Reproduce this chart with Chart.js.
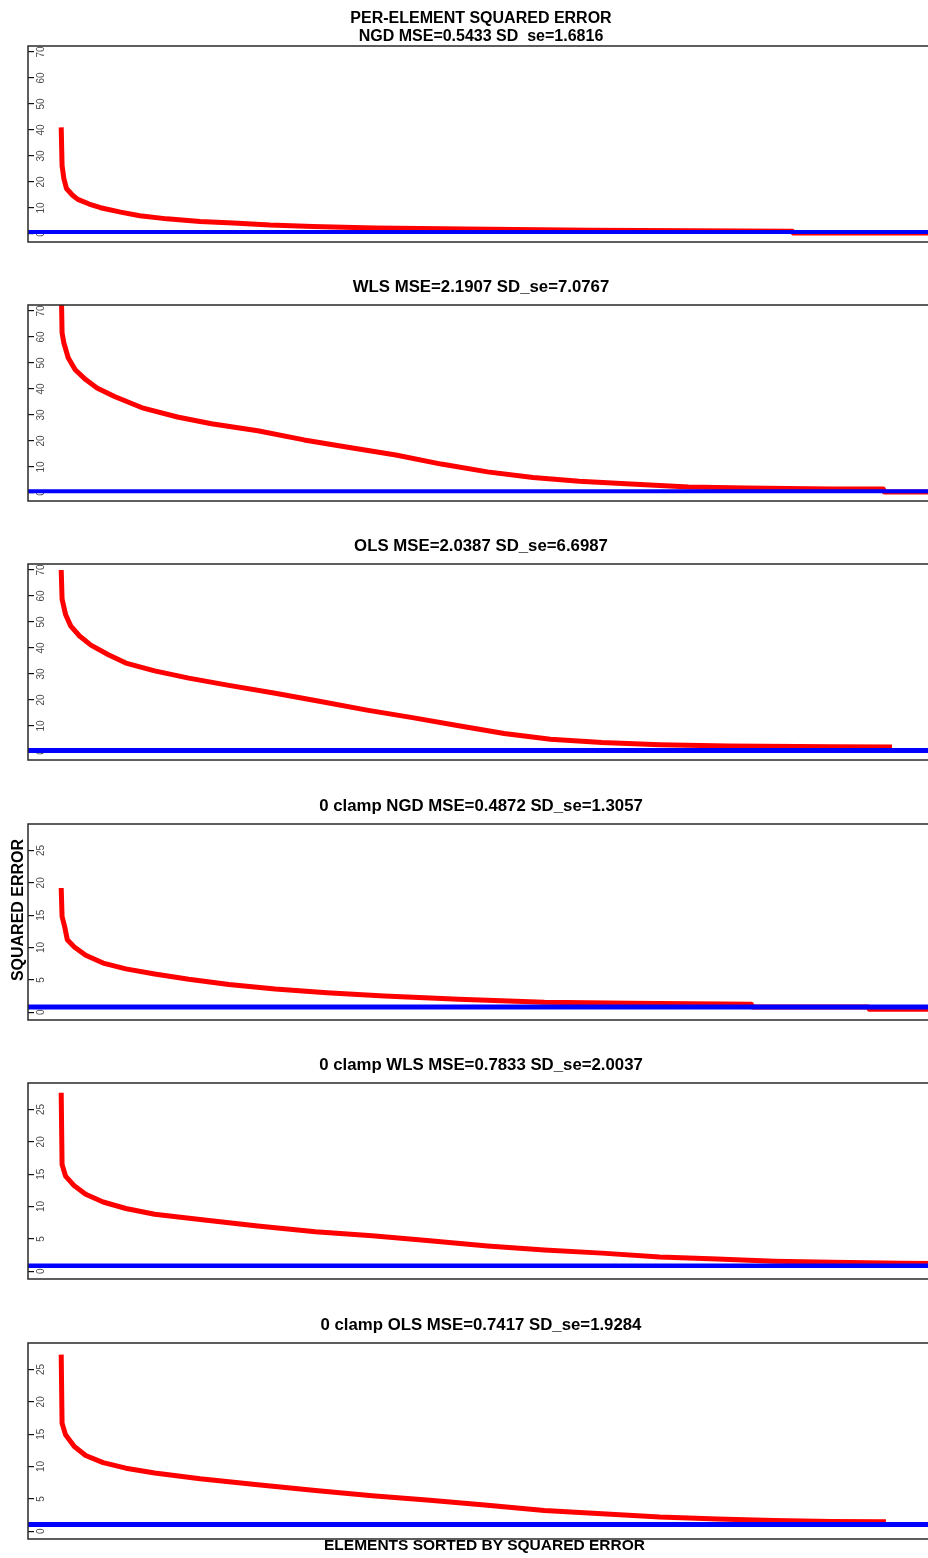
<!DOCTYPE html>
<html><head><meta charset="utf-8">
<script src="https://cdn.jsdelivr.net/npm/chart.js@4.4.1/dist/chart.umd.min.js"></script>
<style>
html,body{margin:0;padding:0;background:#fff;overflow:hidden;}
#wrap{position:relative;width:928px;height:1558px;overflow:hidden;background:#fff;}
#wrap canvas{position:absolute;left:0;}
.lab{position:absolute;font-family:'Liberation Sans',Arial,sans-serif;font-weight:bold;color:#000;white-space:nowrap;}
</style></head><body>
<div id="wrap"></div>
<script>
// ---------------- data ----------------
const rankMin = -37, rankMax = 1000;           // element rank axis (no ticks shown)
const wideTicks = [0, 10, 20, 30, 40, 50, 60, 70];
const narrowTicks = [0, 5, 10, 15, 20, 25];
const wideRange = [-3.1, 72.3];
const narrowRange = [-1.2, 29.1];

const titles = [
  ['PER-ELEMENT SQUARED ERROR', 'NGD MSE=0.5433 SD  se=1.6816'],
  'WLS MSE=2.1907 SD_se=7.0767',
  'OLS MSE=2.0387 SD_se=6.6987',
  '0 clamp NGD MSE=0.4872 SD_se=1.3057',
  '0 clamp WLS MSE=0.7833 SD_se=2.0037',
  '0 clamp OLS MSE=0.7417 SD_se=1.9284'
];

const ngdRank = [1, 2, 4, 7, 14, 20, 33, 46, 69, 91, 122, 160, 198, 240, 289, 360, 463, 606, 838, 839, 1000];
const ngdErr  = [41, 26.3, 21.4, 17.5, 14.9, 13.3, 11.5, 10.1, 8.4, 7.0, 5.8, 4.8, 4.2, 3.4, 2.9, 2.3, 1.9, 1.4, 1.04, 0.35, 0.35];
const ngdBase = 0.76;

const wlsRank = [1, 2, 4, 9, 17, 29, 42, 62, 95, 134, 173, 226, 279, 331, 384, 436, 489, 541, 594, 653, 719, 784, 883, 942, 943, 1000];
const wlsErr  = [80, 61.6, 57.8, 52.0, 47.4, 43.6, 40.4, 37.1, 32.6, 29.2, 26.6, 23.9, 20.4, 17.5, 14.6, 11.1, 8.1, 5.9, 4.5, 3.4, 2.3, 1.9, 1.5, 1.5, 0.35, 0.35];
const wlsBase = 0.66;

const olsRank = [1, 2, 6, 12, 22, 35, 55, 75, 108, 147, 193, 246, 298, 351, 403, 456, 508, 561, 620, 686, 765, 883, 952];
const olsErr  = [70, 58.8, 52.9, 48.4, 44.6, 41.1, 37.4, 34.2, 31.2, 28.4, 25.6, 22.6, 19.4, 16.1, 13.2, 10.1, 7.1, 4.9, 3.6, 2.8, 2.3, 2.0, 1.9];
const olsBase = 0.6;

const cNgdRank = [1, 2, 5, 8, 16, 29, 49, 75, 108, 147, 193, 246, 305, 371, 456, 554, 653, 791, 792, 925, 926, 1000];
const cNgdErr  = [19.2, 14.8, 13.2, 11.2, 10.1, 8.8, 7.6, 6.7, 5.9, 5.1, 4.3, 3.6, 3.0, 2.5, 2.0, 1.55, 1.4, 1.25, 0.8, 0.8, 0.45, 0.45];
const cNgdBase = 0.82;

const cWlsRank = [1, 2, 6, 16, 29, 49, 75, 108, 160, 226, 292, 357, 423, 489, 554, 620, 686, 752, 817, 883, 962, 1000];
const cWlsErr  = [27.6, 16.5, 14.7, 13.2, 11.9, 10.7, 9.7, 8.8, 8.0, 7.0, 6.1, 5.5, 4.7, 3.9, 3.3, 2.8, 2.2, 1.9, 1.56, 1.4, 1.25, 1.2];
const cWlsBase = 0.85;

const cOlsRank = [1, 2, 6, 16, 29, 49, 75, 108, 160, 226, 292, 357, 423, 489, 554, 620, 686, 752, 817, 883, 945];
const cOlsErr  = [27.3, 16.7, 14.9, 13.1, 11.7, 10.6, 9.75, 9.0, 8.1, 7.2, 6.3, 5.5, 4.8, 4.0, 3.2, 2.7, 2.2, 1.9, 1.65, 1.5, 1.45];
const cOlsBase = 1.05;

// ---------------- layout ----------------
const boxTops = [46, 305, 564, 824, 1083, 1343];
const panels = [
  {rank: ngdRank,  err: ngdErr,  base: ngdBase,  range: wideRange,   ticks: wideTicks,   bw: 4,   ts: 16},
  {rank: wlsRank,  err: wlsErr,  base: wlsBase,  range: wideRange,   ticks: wideTicks,   bw: 4,   ts: 16.8},
  {rank: olsRank,  err: olsErr,  base: olsBase,  range: wideRange,   ticks: wideTicks,   bw: 5,   ts: 16.8},
  {rank: cNgdRank, err: cNgdErr, base: cNgdBase, range: narrowRange, ticks: narrowTicks, bw: 5,   ts: 16.8},
  {rank: cWlsRank, err: cWlsErr, base: cWlsBase, range: narrowRange, ticks: narrowTicks, bw: 4.7, ts: 16.8},
  {rank: cOlsRank, err: cOlsErr, base: cOlsBase, range: narrowRange, ticks: narrowTicks, bw: 5,   ts: 16.8}
];

Chart.defaults.font.family = "'Liberation Sans', Arial, sans-serif";

const boxPlugin = {
  id: 'box',
  afterDatasetsDraw(chart) {
    const {ctx, chartArea: a} = chart;
    ctx.save();
    ctx.strokeStyle = '#2a2a2a';
    ctx.lineWidth = 1.5;
    ctx.strokeRect(a.left, a.top, a.right - a.left, a.bottom - a.top);
    ctx.restore();
  }
};

const wrap = document.getElementById('wrap');
panels.forEach((p, i) => {
  const cv = document.createElement('canvas');
  cv.width = 940; cv.height = 258;
  cv.style.top = (boxTops[i] - 46) + 'px';
  wrap.appendChild(cv);
  const multi = Array.isArray(titles[i]);
  const lh = 18.3 / p.ts;
  new Chart(cv, {
    type: 'line',
    data: {
      datasets: [
        {
          data: p.rank.map((r, k) => ({x: r, y: p.err[k]})),
          borderColor: '#ff0000', borderWidth: 5, pointRadius: 0, tension: 0,
          borderJoinStyle: 'round', order: 1, fill: false
        },
        {
          data: [{x: rankMin, y: p.base}, {x: rankMax, y: p.base}],
          borderColor: '#0000ff', borderWidth: p.bw, pointRadius: 0, order: 0, fill: false
        }
      ]
    },
    options: {
      responsive: false, animation: false, events: [],
      layout: {padding: {left: 28, right: 6, top: 0, bottom: 16}},
      plugins: {
        legend: {display: false},
        tooltip: {enabled: false},
        title: {
          display: true, text: titles[i], color: '#000',
          font: {size: p.ts, weight: 'bold', lineHeight: lh},
          padding: multi ? {top: 9.4, bottom: 0} : {top: 19, bottom: 8.7}
        }
      },
      scales: {
        x: {type: 'linear', min: rankMin, max: rankMax, display: false},
        y: {
          type: 'linear', min: p.range[0], max: p.range[1],
          afterBuildTicks: s => { s.ticks = p.ticks.map(v => ({value: v})); },
          afterFit: s => { s.width = 0; s.paddingTop = 0; s.paddingBottom = 0; },
          grid: {drawOnChartArea: false, drawTicks: true, tickLength: -6, color: '#111', lineWidth: 1.2},
          border: {display: false},
          ticks: {
            mirror: true, minRotation: 90, maxRotation: 90, crossAlign: 'center',
            padding: 7.9, autoSkip: false, color: '#4a4a4a', font: {size: 10}
          }
        }
      }
    },
    plugins: [boxPlugin]
  });
});

// axis titles
const yl = document.createElement('div');
yl.className = 'lab';
yl.textContent = 'SQUARED ERROR';
yl.style.cssText += 'font-size:16px;line-height:16px;width:200px;height:16px;text-align:center;left:' + (17.6 - 100) + 'px;top:' + (910 - 8) + 'px;transform:rotate(-90deg);transform-origin:50% 50%;';
wrap.appendChild(yl);

const xl = document.createElement('div');
xl.className = 'lab';
xl.textContent = 'ELEMENTS SORTED BY SQUARED ERROR';
xl.style.cssText += 'font-size:15.5px;line-height:1;width:400px;text-align:center;left:' + (484.5 - 200) + 'px;top:1537px;';
wrap.appendChild(xl);
</script>
</body></html>
